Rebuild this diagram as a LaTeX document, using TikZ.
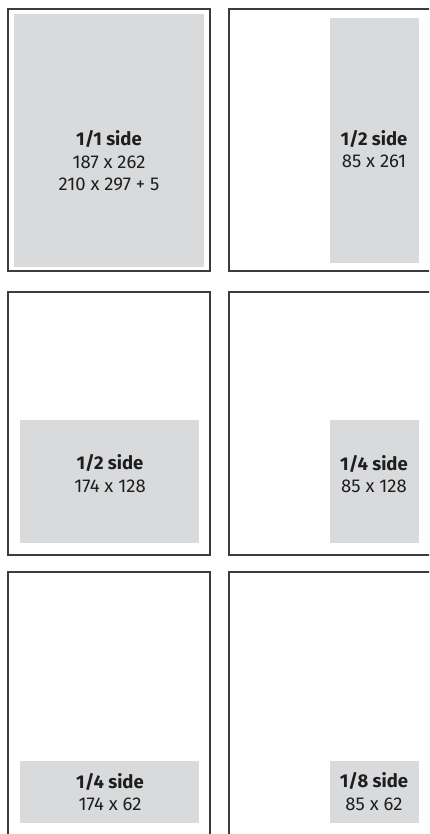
\documentclass[tikz,border=0pt]{standalone}
\usepackage{fontspec}
\setmainfont{Fira Sans}
\definecolor{panelgray}{HTML}{D9DADC}
\definecolor{framecol}{HTML}{3C3C3C}
\definecolor{txtcol}{HTML}{1E1E1E}
\begin{document}
\begin{tikzpicture}[x=1pt,y=-1pt,
  frame/.style={draw=framecol,line width=1.1pt},
  adbox/.style={fill=panelgray,draw=none},
  lbl/.style={inner sep=0pt,anchor=base,text=txtcol,font=\fontsize{18.5}{22}\selectfont},
  bl/.style={lbl,font=\fontsize{18.5}{22}\selectfont\bfseries}]
\useasboundingbox (0,0) rectangle (429,834);
\begin{scope}
\clip (0,0) rectangle (429,834);
% frames
\draw[frame] (8,9) rectangle (210,271);
\draw[frame] (440,9) -- (229,9) -- (229,271) -- (440,271);
\draw[frame] (8,292) rectangle (210,555);
\draw[frame] (440,292) -- (229,292) -- (229,555) -- (440,555);
\draw[frame] (8,845) -- (8,572) -- (210,572) -- (210,845);
\draw[frame] (440,572) -- (229,572) -- (229,845);
\end{scope}
% ad boxes
\fill[adbox] (13.5,14) rectangle (204,267);
\fill[adbox] (329.5,18) rectangle (419,263);
\fill[adbox] (20,420) rectangle (199,543);
\fill[adbox] (329.5,420) rectangle (419,543);
\fill[adbox] (20,761) rectangle (199,823);
\fill[adbox] (329.5,761) rectangle (419,823);
% labels
\node[bl]  (p1a) at (109,146) {1/1 side};
\node[lbl] (p1b) at (109,168.5) {187 x 262};
\node[lbl] (p1c) at (109,190.5) {210 x 297 + 5};
\node[bl]  (p2a) at (374,146) {1/2 side};
\node[lbl] (p2b) at (374,168) {85 x 261};
\node[bl]  (p3a) at (110,469) {1/2 side};
\node[lbl] (p3b) at (110,492) {174 x 128};
\node[bl]  (p4a) at (374,470) {1/4 side};
\node[lbl] (p4b) at (374,492) {85 x 128};
\node[bl]  (p5a) at (110,788) {1/4 side};
\node[lbl] (p5b) at (110,810) {174 x 62};
\node[bl]  (p6a) at (374,787) {1/8 side};
\node[lbl] (p6b) at (374,810) {85 x 62};
\end{tikzpicture}
\end{document}
